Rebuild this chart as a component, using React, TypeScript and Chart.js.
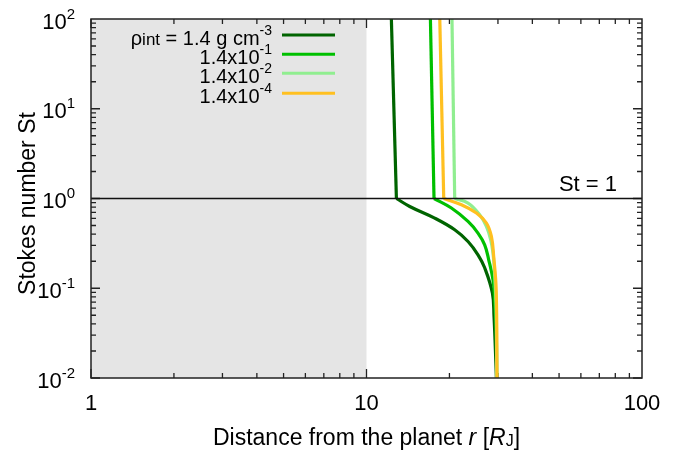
import React, { useEffect, useRef } from 'react';
import { Chart, registerables } from 'chart.js';

Chart.register(...registerables);

// ---- data ----
const xTickValues = [1, 10, 100];
const xTickLabels = ['1', '10', '100'];
const yTickValues = [0.01, 0.1, 1, 10, 100];
const yTickExponents = ['-2', '-1', '0', '1', '2'];

const seriesLabels = ['ρint = 1.4 g cm', '1.4x10', '1.4x10', '1.4x10'];
const seriesExponents = ['-3', '-1', '-2', '-4'];
const seriesColors = ['#006400', '#00c000', '#90ee90', '#ffc020'];

// first two points: nearly vertical part above St = 1; rest: curved part below
const darkX = [12.31, 12.84, 14.35, 17.68, 20.9, 23.36, 25.39, 26.85, 28.64, 29.03, 29.37, 29.62];
const darkY = [100, 1, 0.815, 0.605, 0.449, 0.332, 0.236, 0.169, 0.0884, 0.0485, 0.0206, 0.01];

const midX = [17.06, 17.58, 20.33, 23.36, 25.39, 26.85, 27.77, 28.78, 29.19, 29.56, 29.69];
const midY = [100, 1, 0.783, 0.555, 0.412, 0.305, 0.2077, 0.1244, 0.0744, 0.0345, 0.01];

const lightX = [20.43, 20.9, 23.36, 25.76, 27.24, 28.24, 28.78, 29.19, 29.56, 29.69];
const lightY = [100, 1, 0.89, 0.659, 0.488, 0.347, 0.2467, 0.1414, 0.0576, 0.01];

const orangeX = [18.45, 19.07, 22.11, 25.06, 27.24, 28.4, 28.95, 29.56, 29.77];
const orangeY = [100, 1, 0.852, 0.688, 0.533, 0.378, 0.226, 0.0962, 0.01];

const shadeFrom = 1;
const shadeTo = 10;
const referenceSt = 1;

const FONT = '"Liberation Sans", Arial, Helvetica, sans-serif';

function zip(xs: number[], ys: number[]) {
  return xs.map((x, i) => ({ x, y: ys[i] }));
}

type Part = { text: string; size: number; dy?: number; italic?: boolean };

function richWidth(ctx: CanvasRenderingContext2D, parts: Part[]) {
  let w = 0;
  for (const p of parts) {
    ctx.font = `${p.italic ? 'italic ' : ''}${p.size}px ${FONT}`;
    w += ctx.measureText(p.text).width;
  }
  return w;
}

function drawRich(
  ctx: CanvasRenderingContext2D,
  parts: Part[],
  x: number,
  y: number,
  align: 'left' | 'right' | 'center'
) {
  const w = richWidth(ctx, parts);
  let cx = align === 'left' ? x : align === 'right' ? x - w : x - w / 2;
  ctx.textAlign = 'left';
  ctx.textBaseline = 'alphabetic';
  for (const p of parts) {
    ctx.font = `${p.italic ? 'italic ' : ''}${p.size}px ${FONT}`;
    ctx.fillText(p.text, cx, y + (p.dy || 0));
    cx += ctx.measureText(p.text).width;
  }
}

const decorPlugin = {
  id: 'decor',
  beforeDatasetsDraw(chart: any) {
    const { ctx, chartArea: a } = chart;
    const xs = chart.scales.x;
    const ys = chart.scales.y;
    ctx.save();
    // shaded region
    const s0 = xs.getPixelForValue(shadeFrom);
    const s1 = xs.getPixelForValue(shadeTo);
    ctx.fillStyle = '#e5e5e5';
    ctx.fillRect(s0, a.top, s1 - s0, a.bottom - a.top);

    // ticks
    ctx.strokeStyle = '#222';
    ctx.lineWidth = 1.3;
    const major = 9;
    const minor = 5;
    ctx.beginPath();
    for (let d = 0; d < 2; d++) {
      const base = Math.pow(10, d);
      for (let m = 1; m <= 9; m++) {
        const v = base * m;
        const px = xs.getPixelForValue(v);
        const len = m === 1 ? major : minor;
        ctx.moveTo(px, a.bottom);
        ctx.lineTo(px, a.bottom - len);
        ctx.moveTo(px, a.top);
        ctx.lineTo(px, a.top + len);
      }
    }
    for (let d = -2; d < 2; d++) {
      const base = Math.pow(10, d);
      for (let m = 1; m <= 9; m++) {
        const v = base * m;
        const py = ys.getPixelForValue(v);
        const len = m === 1 ? major : minor;
        ctx.moveTo(a.left, py);
        ctx.lineTo(a.left + len, py);
        ctx.moveTo(a.right, py);
        ctx.lineTo(a.right - len, py);
      }
    }
    ctx.stroke();
    ctx.restore();
  },
  afterDatasetsDraw(chart: any) {
    const { ctx, chartArea: a } = chart;
    const xs = chart.scales.x;
    const ys = chart.scales.y;
    ctx.save();

    // St = 1 line
    const py1 = ys.getPixelForValue(referenceSt);
    ctx.strokeStyle = '#111';
    ctx.lineWidth = 1.5;
    ctx.beginPath();
    ctx.moveTo(a.left, py1);
    ctx.lineTo(a.right, py1);
    ctx.stroke();

    // frame
    ctx.strokeStyle = '#222';
    ctx.lineWidth = 1.5;
    ctx.strokeRect(a.left, a.top, a.right - a.left, a.bottom - a.top);

    ctx.fillStyle = '#000';
    // y tick labels
    yTickValues.forEach((v, i) => {
      const py = ys.getPixelForValue(v);
      drawRich(
        ctx,
        [
          { text: '10', size: 22 },
          { text: yTickExponents[i], size: 15, dy: -10 },
        ],
        75,
        py + 9.5,
        'right'
      );
    });
    // x tick labels
    xTickValues.forEach((v, i) => {
      const px = xs.getPixelForValue(v);
      drawRich(ctx, [{ text: xTickLabels[i], size: 22 }], px, 410, 'center');
    });

    // x title
    drawRich(
      ctx,
      [
        { text: 'Distance from the planet ', size: 23 },
        { text: 'r', size: 23, italic: true },
        { text: ' [', size: 23 },
        { text: 'R', size: 23, italic: true },
        { text: 'J', size: 16, dy: 1 },
        { text: ']', size: 23 },
      ],
      (a.left + a.right) / 2,
      445,
      'center'
    );

    // y title
    ctx.save();
    ctx.translate(35, (a.top + a.bottom) / 2 + 5);
    ctx.rotate(-Math.PI / 2);
    drawRich(ctx, [{ text: 'Stokes number St', size: 23 }], 0, 0, 'center');
    ctx.restore();

    // St = 1 label
    drawRich(ctx, [{ text: 'St = 1', size: 22 }], 617, py1 - 8, 'right');

    // legend
    const rowY = [35, 54.3, 73.3, 93.3];
    seriesLabels.forEach((lab, i) => {
      const y = rowY[i];
      let parts: Part[];
      if (i === 0) {
        parts = [
          { text: 'ρ', size: 20 },
          { text: 'int', size: 17 },
          { text: ' = 1.4 g cm', size: 20 },
          { text: seriesExponents[i], size: 14, dy: -10 },
        ];
      } else {
        parts = [
          { text: lab, size: 20 },
          { text: seriesExponents[i], size: 14, dy: -10 },
        ];
      }
      ctx.fillStyle = '#000';
      drawRich(ctx, parts, 272, y + 9.5, 'right');
      ctx.strokeStyle = seriesColors[i];
      ctx.lineWidth = 3;
      ctx.beginPath();
      ctx.moveTo(282, y);
      ctx.lineTo(335, y);
      ctx.stroke();
    });

    ctx.restore();
  },
};

export default function App() {
  const ref = useRef<HTMLCanvasElement | null>(null);
  useEffect(() => {
    if (!ref.current) return;
    const series = [zip(darkX, darkY), zip(midX, midY), zip(lightX, lightY), zip(orangeX, orangeY)];
    const datasets: any[] = [];
    series.forEach((d, i) => {
      const common = {
        showLine: true,
        borderColor: seriesColors[i],
        backgroundColor: seriesColors[i],
        borderWidth: 3.2,
        pointRadius: 0,
        borderCapStyle: 'butt',
        borderJoinStyle: 'miter',
        order: 4 - i,
      };
      // upper straight part down to St = 1
      datasets.push({ ...common, label: seriesLabels[i] + seriesExponents[i], data: d.slice(0, 2), tension: 0 });
      // curved part below St = 1
      datasets.push({ ...common, label: seriesLabels[i] + seriesExponents[i] + ' (St<1)', data: d.slice(1), tension: 0.4 });
    });
    const chart = new Chart(ref.current, {
      type: 'scatter',
      data: { datasets },
      options: {
        responsive: false,
        animation: false,
        layout: { padding: { left: 91, right: 45, top: 19, bottom: 76 } },
        plugins: { legend: { display: false }, tooltip: { enabled: false } },
        scales: {
          x: { type: 'logarithmic', min: 1, max: 100, display: false },
          y: { type: 'logarithmic', min: 0.01, max: 100, display: false },
        },
      },
      plugins: [decorPlugin],
    } as any);
    return () => chart.destroy();
  }, []);
  return (
    <div style={{ position: 'absolute', left: 0, top: 0, width: 687, height: 454, background: '#fff' }}>
      <canvas ref={ref} width={687} height={454} style={{ width: 687, height: 454 }} />
    </div>
  );
}
